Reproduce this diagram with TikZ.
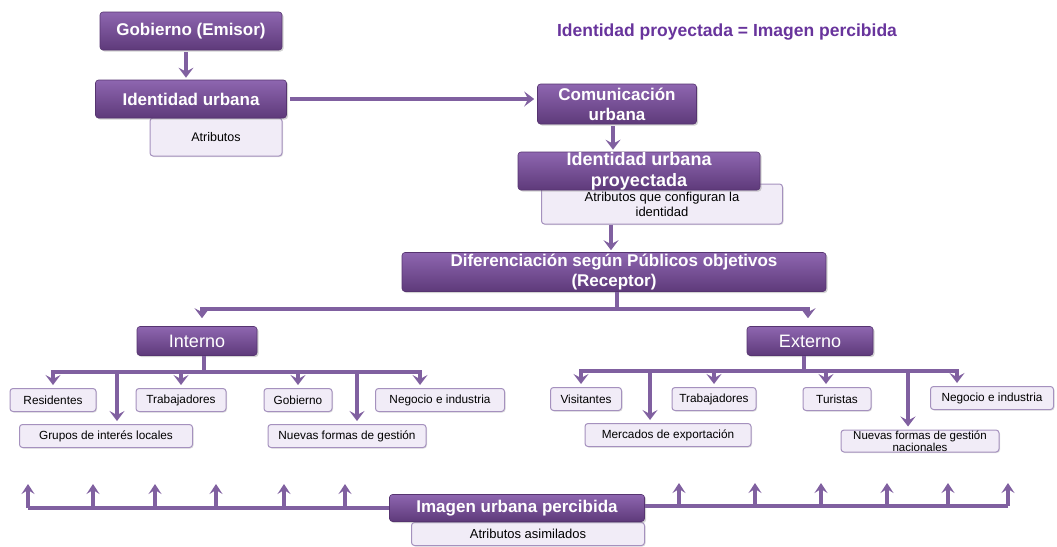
\documentclass[tikz,border=0pt]{standalone}
\usepackage{fontspec}
\setmainfont{Liberation Sans}
\usetikzlibrary{arrows.meta,shadows,calc}
\definecolor{pTop}{RGB}{142,102,176}
\definecolor{pBot}{RGB}{94,58,122}
\definecolor{pBorder}{RGB}{86,52,112}
\definecolor{lFill}{RGB}{241,236,247}
\definecolor{lBorder}{RGB}{165,145,190}
\definecolor{arrC}{RGB}{128,96,160}
\definecolor{titleC}{RGB}{104,52,156}
\tikzset{
  darkbox/.style={rounded corners=3pt, top color=pTop, bottom color=pBot, draw=pBorder, line width=0.6pt,
    text=white, font=\fontsize{17}{20}\selectfont\bfseries, align=center, inner sep=0pt,
    drop shadow={shadow xshift=1.5pt, shadow yshift=-1.5pt, opacity=0.35}},
  darkreg/.style={darkbox, font=\fontsize{18}{18}\selectfont},
  lightbox/.style={rounded corners=3pt, fill=lFill, draw=lBorder, line width=1pt,
    font=\fontsize{11.8}{12}\selectfont, align=center, inner sep=0pt,
    drop shadow={shadow xshift=1pt, shadow yshift=-1pt, opacity=0.25}},
  conn/.style={draw=arrC, line width=3.4pt},
  arr/.style={conn, -{Stealth[length=10pt, width=15pt, inset=4pt]}},
  arru/.style={conn, -{Stealth[length=10pt, width=13pt, inset=4pt]}},
}
\begin{document}
\begin{tikzpicture}[x=1pt, y=-1pt]
\useasboundingbox (0,0) rectangle (1057,546);

% title
\node[text=titleC, font=\fontsize{17.5}{18}\selectfont\bfseries] (title) at (727,32) {Identidad proyectada = Imagen percibida};

% light boxes (behind)
\node[lightbox, minimum width=132pt, minimum height=38pt, font=\fontsize{12.5}{13}\selectfont] (atr) at (216,137) {Atributos};
\node[lightbox, minimum width=241pt, minimum height=40pt, font=\fontsize{13}{15}\selectfont] (atp) at (662,204) {\raisebox{-1pt}{\parbox{190pt}{\centering Atributos que configuran la\\identidad}}};

% dark boxes
\node[darkbox, minimum width=182pt, minimum height=38pt] (gob) at (191,31) {Gobierno (Emisor)};
\node[darkbox, minimum width=191pt, minimum height=38pt] (idu) at (191,99) {Identidad urbana};
\node[darkbox, minimum width=159pt, minimum height=40pt] (com) at (617,104) {Comunicación\\urbana};
\node[darkbox, minimum width=242pt, minimum height=38pt, font=\fontsize{18}{21}\selectfont\bfseries] (idp) at (639,171) {Identidad urbana\\proyectada};
\node[darkbox, minimum width=424pt, minimum height=39pt] (dif) at (614,272) {Diferenciación según Públicos objetivos\\(Receptor)};
\node[darkreg, minimum width=120pt, minimum height=29pt] (int) at (197,341) {Interno};
\node[darkreg, minimum width=126pt, minimum height=29pt] (ext) at (810,341) {Externo};

% interno children
\node[lightbox, minimum width=86pt, minimum height=23pt] (res) at (53,400) {Residentes};
\node[lightbox, minimum width=90pt, minimum height=23pt] (tr1) at (181,400) {Trabajadores};
\node[lightbox, minimum width=68pt, minimum height=23pt] (gb2) at (298,400) {Gobierno};
\node[lightbox, minimum width=129pt, minimum height=23pt] (neg1) at (440,400) {Negocio e industria};
\node[lightbox, minimum width=173pt, minimum height=23pt] (grp) at (106,436) {Grupos de interés locales};
\node[lightbox, minimum width=158pt, minimum height=23pt] (nue1) at (347,436) {Nuevas formas de gestión};

% externo children
\node[lightbox, minimum width=71pt, minimum height=23pt] (vis) at (586,399) {Visitantes};
\node[lightbox, minimum width=84pt, minimum height=23pt] (tr2) at (714,399) {Trabajadores};
\node[lightbox, minimum width=68pt, minimum height=23pt] (tur) at (837,399) {Turistas};
\node[lightbox, minimum width=123pt, minimum height=23pt] (neg2) at (992,398) {Negocio e industria};
\node[lightbox, minimum width=166pt, minimum height=23pt] (mer) at (668,435) {Mercados de exportación};
\node[lightbox, minimum width=158pt, minimum height=22pt, font=\fontsize{11.5}{10.5}\selectfont] (nue2) at (920,441) {Nuevas formas de gestión\\nacionales};

% bottom
\node[lightbox, minimum width=233pt, minimum height=23pt, font=\fontsize{13}{13}\selectfont] (atas) at (528,534) {Atributos asimilados};
\node[darkbox, minimum width=255pt, minimum height=27pt] (img) at (517,508) {Imagen urbana percibida};

% connectors top
\draw[arr, shorten <=2pt, shorten >=2pt] ([xshift=-5pt]gob.south) -- ([xshift=-5pt]gob.south |- idu.north);
\draw[arr, shorten >=3pt] ($(idu.east)+(3pt,0)$) -- (idu.east -| com.west);
\draw[arr, shorten <=2pt, shorten >=2pt] ([xshift=-4pt]com.south) -- ([xshift=-4pt]com.south |- idp.north);
\draw[arr, shorten >=2pt] ([xshift=-3pt]dif.north |- atp.south) -- ([xshift=-3pt]dif.north);

% receptor bus
\coordinate (rb) at ([xshift=3pt]dif.south |- 0,309);
\draw[conn] ([xshift=3pt]dif.south) -- (rb);
\draw[arr, shorten >=8pt] (rb) -| ([xshift=5pt]int.north);
\draw[arr, shorten >=8pt] (rb) -| ([xshift=-2pt]ext.north);

% interno bus
\coordinate (ib) at ([xshift=7pt]int.south |- 0,372);
\draw[conn] ([xshift=7pt]int.south) -- (ib);
\draw[arr, shorten >=3pt] (ib) -| (res.north);
\draw[arr, shorten >=3pt] (ib) -| (tr1.north);
\draw[arr, shorten >=3pt] (ib) -| (gb2.north);
\draw[arr, shorten >=3pt] (ib) -| ([xshift=-20pt]neg1.north);
\draw[arr, shorten >=3pt] (ib) -| ([xshift=11pt]grp.north);
\draw[arr, shorten >=3pt] (ib) -| ([xshift=10pt]nue1.north);

% externo bus
\coordinate (eb) at ([xshift=-6pt]ext.south |- 0,371);
\draw[conn] ([xshift=-6pt]ext.south) -- (eb);
\draw[arr, shorten >=3pt] (eb) -| ([xshift=-5pt]vis.north);
\draw[arr, shorten >=3pt] (eb) -| (tr2.north);
\draw[arr, shorten >=3pt] (eb) -| ([xshift=-11pt]tur.north);
\draw[arr, shorten >=3pt] (eb) -| ([xshift=-35pt]neg2.north);
\draw[arr, shorten >=3pt] (eb) -| ([xshift=-18pt]mer.north);
\draw[arr, shorten >=3pt] (eb) -| ([xshift=-12pt]nue2.north);

% bottom bus
\coordinate (bl) at (28,508);
\coordinate (br) at (1008,506);
\draw[conn] (img.west) -- (bl);
\draw[conn] (img.east |- br) -- (br);
\foreach \x [count=\i] in {28,93,155,216,284,345} {
  \coordinate (lu\i) at (\x,484);
  \draw[arru] (lu\i |- bl) -- (lu\i);
}
\foreach \x [count=\i] in {679,755,821,887,948,1008} {
  \coordinate (ru\i) at (\x,483);
  \draw[arru] (ru\i |- br) -- (ru\i);
}
\end{tikzpicture}
\end{document}
